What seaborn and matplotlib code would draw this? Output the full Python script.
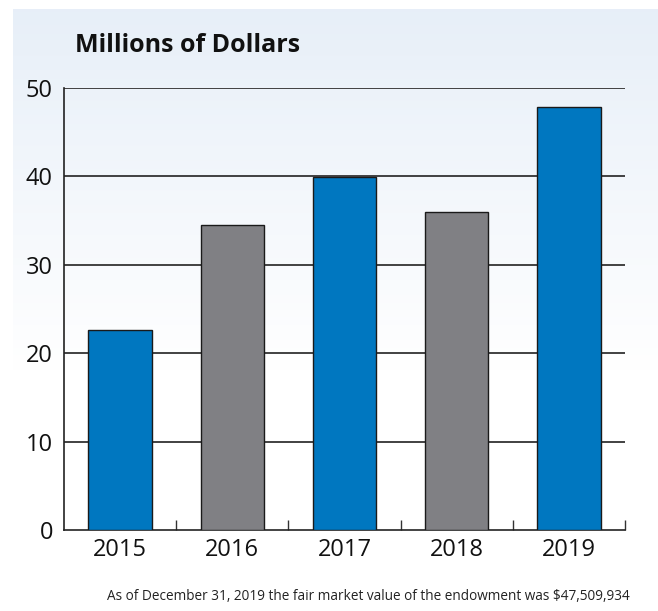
import numpy as np
import matplotlib.pyplot as plt
from matplotlib.ticker import FixedLocator
import seaborn as sns

# Endowment values, millions of dollars
years = ["2015", "2016", "2017", "2018", "2019"]
values = [22.6, 34.5, 39.9, 36.0, 47.9]
bar_colors = ["#0077c0", "#808084", "#0077c0", "#808084", "#0077c0"]
y_ticks = [0, 10, 20, 30, 40, 50]

title = "Millions of Dollars"
note = "As of December 31, 2019 the fair market value of the endowment was $47,509,934"

sns.set_theme(style="white")
plt.rcParams['font.family'] = ['Open Sans', 'DejaVu Sans']

fig = plt.figure(figsize=(6.58, 6.11), dpi=100)

# light blue panel fading to white
bg = fig.add_axes([13 / 658, 0, 1 - 13 / 658, 1 - 9 / 611], zorder=-5)
grad = np.linspace(0, 1, 256).reshape(-1, 1)
top_col = np.array([0.906, 0.937, 0.973])
white = np.array([1.0, 1.0, 1.0])
fade = np.clip(grad / 0.6, 0, 1)
img = top_col * (1 - fade[..., None]) + white * fade[..., None]
img = img.reshape(256, 1, 3)
bg.imshow(img, aspect="auto", extent=[0, 1, 0, 1], origin="upper")
bg.axis("off")

ax = fig.add_axes([64 / 658, 1 - 530 / 611, (625 - 64) / 658, (530 - 88) / 611])
ax.set_facecolor("none")

sns.barplot(x=years, y=values, hue=years, palette=bar_colors, legend=False,
            width=0.565, edgecolor="#1a1a1a", linewidth=1.0, saturation=1,
            ax=ax, zorder=3)

ax.set_xlim(-0.5, 4.5)
ax.set_ylim(0, 50)
ax.set_yticks(y_ticks)
ax.set_xlabel("")
ax.set_ylabel("")

for v in y_ticks[1:]:
    ax.axhline(v, color="#333333", linewidth=1.3, zorder=1)

for s in ["top", "right"]:
    ax.spines[s].set_visible(False)
for s in ["left", "bottom"]:
    ax.spines[s].set_color("#222222")
    ax.spines[s].set_linewidth(1.2)

ax.tick_params(axis="y", left=False, length=0, pad=8, labelsize=17, colors="#111111")
ax.tick_params(axis="x", which="major", bottom=False, length=0, pad=6, labelsize=17, colors="#111111")
ax.xaxis.set_minor_locator(FixedLocator([0.5, 1.5, 2.5, 3.5, 4.5]))
ax.tick_params(axis="x", which="minor", bottom=True, direction="in", length=7, width=1.0, color="#333333")

fig.text(75 / 658, 1 - 45 / 611, title, fontsize=18, fontweight="bold",
         color="#111111", va="center", ha="left")
fig.text(630 / 658, 1 - 596 / 611, note, fontsize=9.8, color="#222222",
         ha="right", va="center")

plt.savefig("out.png", dpi=100)
plt.close()
